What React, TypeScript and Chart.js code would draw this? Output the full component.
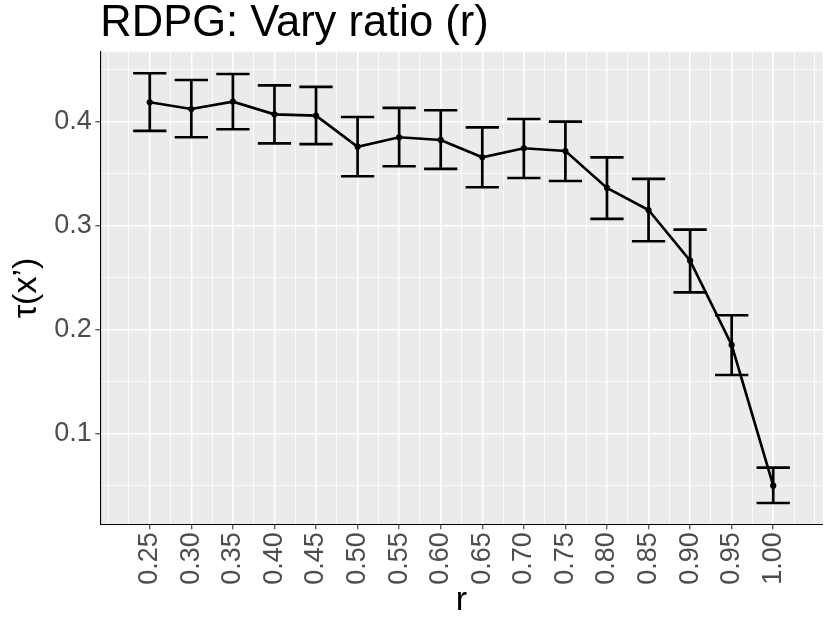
import { useEffect, useRef } from "react";
import { Chart, registerables } from "chart.js";

Chart.register(...registerables);

// ---- data ----
const ratios = [0.25, 0.3, 0.35, 0.4, 0.45, 0.5, 0.55, 0.6, 0.65, 0.7, 0.75, 0.8, 0.85, 0.9, 0.95, 1.0];
const tauMean = [0.4186, 0.4121, 0.4192, 0.407, 0.4057, 0.3758, 0.3849, 0.3823, 0.3656, 0.3743, 0.3717, 0.3361, 0.3149, 0.2661, 0.185, 0.0496];
const tauLower = [0.391, 0.3849, 0.3926, 0.3791, 0.3782, 0.3474, 0.357, 0.3544, 0.3368, 0.3457, 0.3428, 0.3063, 0.2848, 0.2357, 0.1561, 0.0329];
const tauUpper = [0.4465, 0.44, 0.4458, 0.4349, 0.4333, 0.4044, 0.4131, 0.4109, 0.3945, 0.4025, 0.3999, 0.3656, 0.3448, 0.296, 0.2136, 0.0669];
const xTickLabels = ["0.25", "0.30", "0.35", "0.40", "0.45", "0.50", "0.55", "0.60", "0.65", "0.70", "0.75", "0.80", "0.85", "0.90", "0.95", "1.00"];
const yTickValues = [0.1, 0.2, 0.3, 0.4];
const yTickLabels = ["0.1", "0.2", "0.3", "0.4"];
const xLimits = [0.1905, 1.0595];
const yLimits = [0.0124, 0.4672];

const TITLE = "RDPG: Vary ratio (r)";
const X_TITLE = "r";
const Y_TITLE = "τ(x’)";

const FONT = "'Liberation Sans', Arial, Helvetica, sans-serif";
const CAP_HALF = 0.02;
const LINE_W = 2.7;

function withMinors(majors: number[], lo: number, hi: number) {
  const step = majors[1] - majors[0];
  const out: { value: number; major: boolean }[] = [];
  const start = majors[0] - step * Math.ceil((majors[0] - lo) / (step / 2)) / 2;
  for (let k = 0; ; k++) {
    const v = +(start + (k * step) / 2).toFixed(6);
    if (v > hi) break;
    if (v < lo) continue;
    const major = majors.some((m) => Math.abs(m - v) < 1e-6);
    out.push({ value: v, major });
  }
  return out;
}

const isMajorX = (v: number) => ratios.findIndex((m) => Math.abs(m - v) < 1e-6);
const isMajorY = (v: number) => yTickValues.findIndex((m) => Math.abs(m - v) < 1e-6);

const panelPlugin = {
  id: "panelBg",
  beforeDraw(chart: any) {
    const { ctx, chartArea } = chart;
    if (!chartArea) return;
    ctx.save();
    ctx.fillStyle = "#EBEBEB";
    ctx.fillRect(chartArea.left, chartArea.top, chartArea.right - chartArea.left, chartArea.bottom - chartArea.top);
    ctx.restore();
  },
};

const errorBarPlugin = {
  id: "errorBars",
  afterDatasetsDraw(chart: any) {
    const { ctx } = chart;
    const xs = chart.scales.x;
    const ys = chart.scales.y;
    ctx.save();
    ctx.strokeStyle = "#000000";
    ctx.lineWidth = LINE_W;
    ctx.lineCap = "butt";
    ratios.forEach((r, i) => {
      const px = xs.getPixelForValue(r);
      const l = xs.getPixelForValue(r - CAP_HALF);
      const rr = xs.getPixelForValue(r + CAP_HALF);
      const top = ys.getPixelForValue(tauUpper[i]);
      const bot = ys.getPixelForValue(tauLower[i]);
      ctx.beginPath();
      ctx.moveTo(px, top);
      ctx.lineTo(px, bot);
      ctx.moveTo(l, top);
      ctx.lineTo(rr, top);
      ctx.moveTo(l, bot);
      ctx.lineTo(rr, bot);
      ctx.stroke();
    });
    ctx.restore();
  },
};

export default function App() {
  const ref = useRef<HTMLCanvasElement | null>(null);

  useEffect(() => {
    document.body.style.margin = "0";
    if (!ref.current) return;
    const xTicks = withMinors(ratios, xLimits[0], xLimits[1]);
    const yTicks = withMinors(yTickValues, yLimits[0], yLimits[1]);

    const chart = new Chart(ref.current, {
      type: "line",
      data: {
        datasets: [
          {
            data: ratios.map((r, i) => ({ x: r, y: tauMean[i] })),
            borderColor: "#000000",
            backgroundColor: "#000000",
            borderWidth: LINE_W,
            pointRadius: 3.1,
            pointBorderWidth: 0,
            pointBackgroundColor: "#000000",
            tension: 0,
          },
        ],
      },
      options: {
        animation: false,
        responsive: true,
        maintainAspectRatio: false,
        layout: { padding: { left: 0, right: 7.3, top: 0, bottom: 0 } },
        plugins: {
          legend: { display: false },
          tooltip: { enabled: false },
          title: {
            display: true,
            text: TITLE,
            align: "start",
            fullSize: false,
            color: "#000000",
            font: { family: FONT, size: 43.5, weight: "normal", lineHeight: 1.1 },
            padding: { top: 0.4, bottom: 3.5 },
          },
        },
        scales: {
          x: {
            type: "linear",
            min: xLimits[0],
            max: xLimits[1],
            afterBuildTicks: (scale: any) => {
              scale.ticks = xTicks.map((t) => ({ value: t.value }));
            },
            afterFit: (scale: any) => {
              scale.height = 98.7;
              scale.paddingLeft = 0;
              scale.paddingRight = 0;
            },
            ticks: {
              autoSkip: false,
              maxRotation: 90,
              minRotation: 90,
              padding: 3,
              color: "#4D4D4D",
              font: { family: FONT, size: 27 },
              callback: (v: any) => {
                const i = isMajorX(Number(v));
                return i >= 0 ? xTickLabels[i] : "";
              },
            },
            grid: {
              color: "#FFFFFF",
              lineWidth: (c: any) => (isMajorX(c.tick?.value) >= 0 ? 1.5 : 0.8),
              tickColor: (c: any) => (isMajorX(c.tick?.value) >= 0 ? "#333333" : "rgba(0,0,0,0)"),
              tickWidth: 1.1,
              tickLength: 5,
            },
            border: { display: true, color: "#000000", width: 1.1 },
            title: {
              display: true,
              text: X_TITLE,
              color: "#000000",
              font: { family: FONT, size: 34 },
              padding: { top: 0, bottom: 1.6 },
            },
          },
          y: {
            type: "linear",
            min: yLimits[0],
            max: yLimits[1],
            afterBuildTicks: (scale: any) => {
              scale.ticks = yTicks.map((t) => ({ value: t.value }));
            },
            afterFit: (scale: any) => {
              scale.width = 100.3;
              scale.paddingTop = 0;
              scale.paddingBottom = 0;
            },
            ticks: {
              autoSkip: false,
              padding: 3.6,
              color: "#4D4D4D",
              font: { family: FONT, size: 27 },
              callback: (v: any) => {
                const i = isMajorY(Number(v));
                return i >= 0 ? yTickLabels[i] : "";
              },
            },
            grid: {
              color: "#FFFFFF",
              lineWidth: (c: any) => (isMajorY(c.tick?.value) >= 0 ? 1.5 : 0.8),
              tickColor: (c: any) => (isMajorY(c.tick?.value) >= 0 ? "#333333" : "rgba(0,0,0,0)"),
              tickWidth: 1.1,
              tickLength: 5,
            },
            border: { display: true, color: "#000000", width: 1.1 },
            title: {
              display: true,
              text: Y_TITLE,
              color: "#000000",
              font: { family: FONT, size: 34 },
              padding: { top: 6, bottom: 0 },
            },
          },
        },
      },
      plugins: [panelPlugin, errorBarPlugin],
    } as any);

    return () => chart.destroy();
  }, []);

  return (
    <div style={{ position: "relative", width: "830px", height: "623px" }}>
      <canvas ref={ref} />
    </div>
  );
}
